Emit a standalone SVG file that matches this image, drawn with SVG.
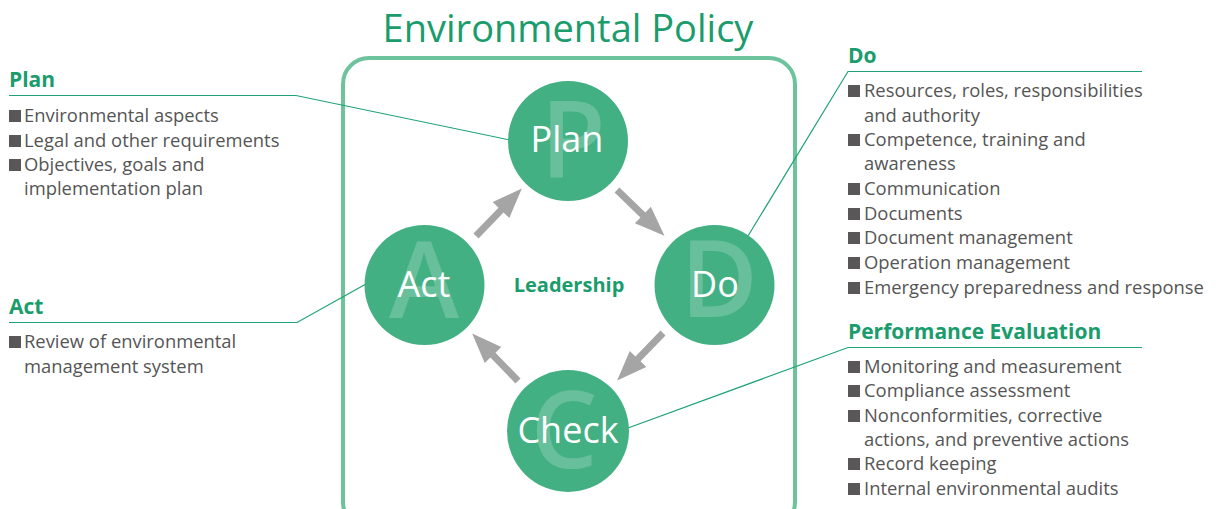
<svg xmlns="http://www.w3.org/2000/svg" width="1216" height="509" viewBox="0 0 1216 509">
<defs>
<style>
.title{font-family:"Open Sans","Noto Sans",sans-serif;font-size:38px;fill:#1a9c6c;text-anchor:middle}
.frame{fill:none;stroke:#6cc39c;stroke-width:4}
.circ{fill:#43b083}
.big{font-family:"Open Sans","Noto Sans",sans-serif;font-size:106px;font-weight:600;fill:#ffffff;fill-opacity:0.2;text-anchor:middle}
.lbl{font-family:"Open Sans","Noto Sans",sans-serif;font-size:36px;fill:#ffffff;text-anchor:middle}
.lead{font-family:"Open Sans","Noto Sans",sans-serif;font-size:20px;font-weight:bold;fill:#1a9c6c;text-anchor:middle}
.head{font-family:"Open Sans","Noto Sans",sans-serif;font-size:21px;font-weight:bold;fill:#1a9c6c}
.item{font-family:"Open Sans","Noto Sans",sans-serif;font-size:18.4px;fill:#555555}
.bul{fill:#595757}
.lead-line{fill:none;stroke:#1fa374;stroke-width:1.2}
.arrow{fill:#a5a5a5}
</style>
<polygon id="arr" points="0,-3.5 36,-3.5 36,-11.5 66,0 36,11.5 36,3.5 0,3.5"/>
<rect id="b" width="12" height="12"/>
</defs>
<rect width="1216" height="509" fill="#ffffff"/>
<text class="title" x="568" y="42">Environmental Policy</text>
<rect class="frame" x="343" y="58" width="452" height="470" rx="26"/>

<g id="connectors">
<polyline class="lead-line" points="9,95.5 296,95.5 510,140"/>
<polyline class="lead-line" points="9,322.5 297,322.5 366,284"/>
<polyline class="lead-line" points="1142,71.5 848,71.5 748,236"/>
<polyline class="lead-line" points="1142,347.5 848,347.5 628,428"/>
<use href="#arr" class="arrow" transform="translate(476,236) rotate(-46)"/>
<use href="#arr" class="arrow" transform="translate(617,190) rotate(44)"/>
<use href="#arr" class="arrow" transform="translate(663,333) rotate(134)"/>
<use href="#arr" class="arrow" transform="translate(518,381) rotate(-134)"/>
</g>

<g id="node-plan">
<circle class="circ" cx="568" cy="141" r="60"/>
<text class="big" x="573" y="178">P</text>
<text class="lbl" x="567" y="152">Plan</text>
</g>
<g id="node-act">
<circle class="circ" cx="424.5" cy="285" r="60"/>
<text class="big" x="424" y="318">A</text>
<text class="lbl" x="424" y="297">Act</text>
</g>
<g id="node-do">
<circle class="circ" cx="714.5" cy="285" r="60"/>
<text class="big" x="719" y="317">D</text>
<text class="lbl" x="715" y="297">Do</text>
</g>
<g id="node-check">
<circle class="circ" cx="568" cy="431" r="61"/>
<text class="big" x="564" y="468">C</text>
<text class="lbl" x="568" y="443">Check</text>
</g>
<g id="leadership">
<text class="lead" x="569" y="292">Leadership</text>
</g>

<g id="list-plan">
<text class="head" x="9" y="87">Plan</text>
<use href="#b" class="bul" x="9" y="110"/><text class="item" x="24" y="122">Environmental aspects</text>
<use href="#b" class="bul" x="9" y="135"/><text class="item" x="24" y="147">Legal and other requirements</text>
<use href="#b" class="bul" x="9" y="159"/><text class="item" x="24" y="171">Objectives, goals and</text>
<text class="item" x="24" y="195">implementation plan</text>
</g>

<g id="list-act">
<text class="head" x="9" y="314">Act</text>
<use href="#b" class="bul" x="9" y="336"/><text class="item" x="24" y="348">Review of environmental</text>
<text class="item" x="24" y="373">management system</text>
</g>

<g id="list-do">
<text class="head" x="848" y="63">Do</text>
<use href="#b" class="bul" x="848" y="85"/><text class="item" x="864" y="97">Resources, roles, responsibilities</text>
<text class="item" x="864" y="122">and authority</text>
<use href="#b" class="bul" x="848" y="134"/><text class="item" x="864" y="146">Competence, training and</text>
<text class="item" x="864" y="170">awareness</text>
<use href="#b" class="bul" x="848" y="183"/><text class="item" x="864" y="195">Communication</text>
<use href="#b" class="bul" x="848" y="208"/><text class="item" x="864" y="220">Documents</text>
<use href="#b" class="bul" x="848" y="232"/><text class="item" x="864" y="244">Document management</text>
<use href="#b" class="bul" x="848" y="257"/><text class="item" x="864" y="269">Operation management</text>
<use href="#b" class="bul" x="848" y="282"/><text class="item" x="864" y="294">Emergency preparedness and response</text>
</g>

<g id="list-check">
<text class="head" x="848" y="339">Performance Evaluation</text>
<use href="#b" class="bul" x="848" y="361"/><text class="item" x="864" y="373">Monitoring and measurement</text>
<use href="#b" class="bul" x="848" y="385"/><text class="item" x="864" y="397">Compliance assessment</text>
<use href="#b" class="bul" x="848" y="410"/><text class="item" x="864" y="422">Nonconformities, corrective</text>
<text class="item" x="864" y="446">actions, and preventive actions</text>
<use href="#b" class="bul" x="848" y="458"/><text class="item" x="864" y="470">Record keeping</text>
<use href="#b" class="bul" x="848" y="483"/><text class="item" x="864" y="495">Internal environmental audits</text>
</g>
</svg>
